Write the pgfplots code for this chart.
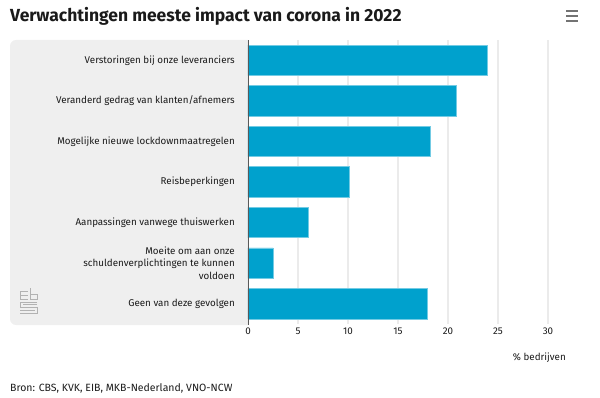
\documentclass[border=0pt]{standalone}
\usepackage{pgfplots}
\pgfplotsset{compat=1.18}
\usepackage{fontspec}
\setmainfont{Fira Sans}
\definecolor{cbsblue}{HTML}{00A1CD}
\definecolor{panel}{HTML}{EFEFEF}
\definecolor{txt}{HTML}{1A1A1A}
\begin{document}
\begin{tikzpicture}[x=1pt,y=1pt]
\path[use as bounding box] (0,0) rectangle (600,397);
% grey panel
\fill[panel] (248,72) [rounded corners=6pt]-- (10,72) -- (10,357) [sharp corners]-- (248,357) -- cycle;
% title
\node[anchor=west,font=\fontsize{17.5}{20}\selectfont\bfseries,text=txt,inner sep=0] at (10,381) {Verwachtingen meeste impact van corona in 2022};
% menu icon
\foreach \yy in {376,381,386}{\draw[gray!90!black,line width=2.2pt] (566,\yy) -- (578,\yy);}
% source
\node[anchor=west,font=\fontsize{10.5}{12}\selectfont,text=txt,inner sep=0] at (10,9) {Bron: CBS, KVK, EIB, MKB-Nederland, VNO-NCW};
% x label
\node[anchor=east,font=\fontsize{9.8}{11}\selectfont,text=txt,inner sep=0] at (566,39) {\% bedrijven};
% logo
\begin{scope}[gray!60,line width=0.9pt]
\draw (28,106) -- (20,106) -- (20,98) -- (28,98);
\draw (20,102) -- (28,102);
\draw (30,109) -- (30,98) -- (37,98) -- (37,103) -- (30,103);
\draw (37,95) -- (20,95) -- (20,90) -- (37,90) -- (37,84) -- (20,84);
\draw (37,92.5) -- (22.5,92.5);
\draw (20,87) -- (34.5,87);
\end{scope}
\begin{axis}[
  at={(248pt,73pt)}, anchor=south west,
  scale only axis, width=300pt, height=284pt,
  xmin=0, xmax=30, ymin=-0.5, ymax=6.5,
  xtick={0,5,...,30},
  ytick={0,...,6},
  yticklabels={Geen van deze gevolgen,{Moeite om aan onze\\schuldenverplichtingen te kunnen\\voldoen},Aanpassingen vanwege thuiswerken,Reisbeperkingen,Mogelijke nieuwe lockdownmaatregelen,Veranderd gedrag van klanten/afnemers,Verstoringen bij onze leveranciers},
  yticklabel style={align=right,font=\fontsize{9.8}{12.7}\selectfont,text=txt,inner sep=0pt,xshift=-13pt},
  xticklabel style={font=\fontsize{9.8}{11}\selectfont,text=txt},
  /pgf/number format/assume math mode=true,
  axis line style={draw=none},
  tick style={draw=none},
  xmajorgrids,
  major grid style={color=gray!16,line width=1.3pt},
]
\addplot[xbar, bar width=0.75, fill=cbsblue, draw=cbsblue!55!white, line width=0.6pt] coordinates {
(17.9,0) (2.5,1) (6.0,2) (10.1,3) (18.2,4) (20.8,5) (23.9,6)};
\end{axis}
\draw[gray!70!black,line width=1pt] (248,72) -- (248,357);
\end{tikzpicture}
\end{document}
